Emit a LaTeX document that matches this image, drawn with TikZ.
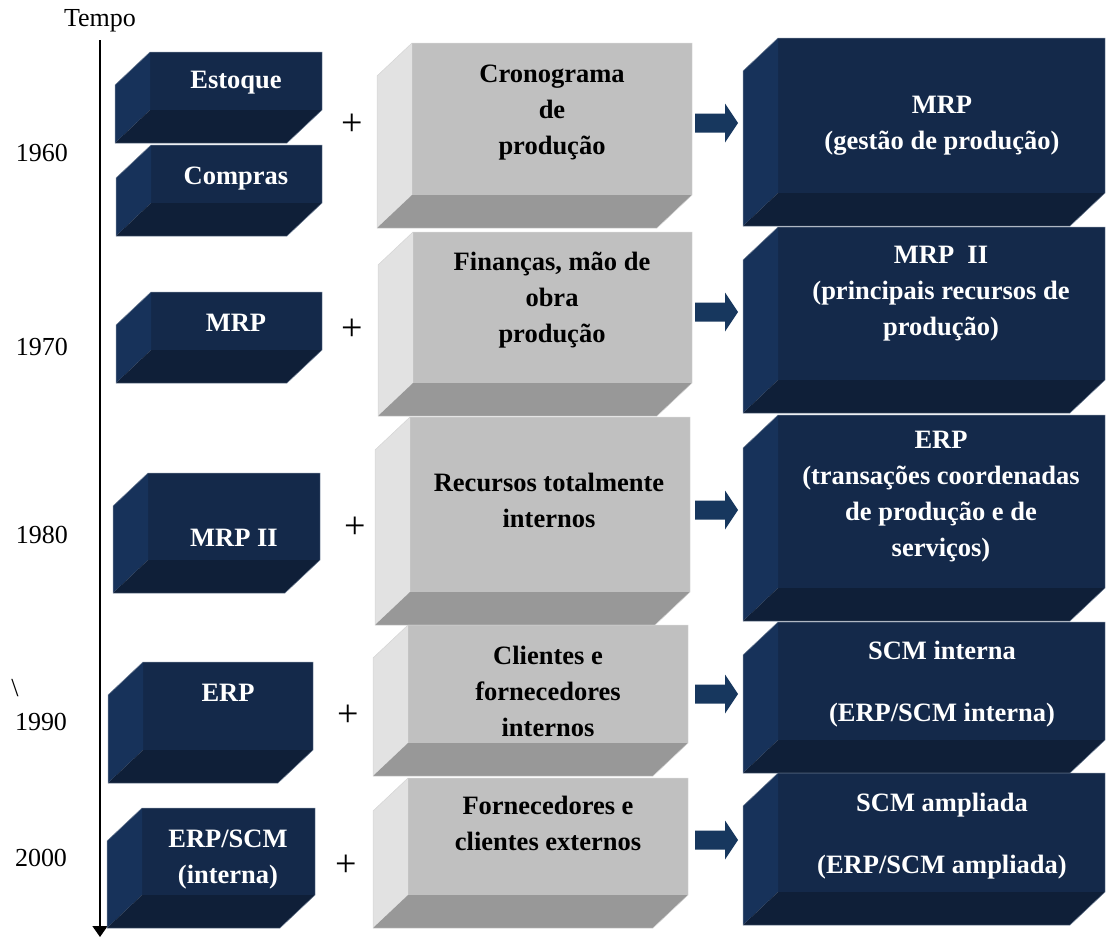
\documentclass[tikz,border=0pt]{standalone}
\usepackage{fontspec}
\setmainfont{Liberation Serif}
\usetikzlibrary{arrows.meta,fit}
\definecolor{navyF}{HTML}{14294A}
\definecolor{navyL}{HTML}{17325A}
\definecolor{navyB}{HTML}{0F1F38}
\definecolor{navyE}{HTML}{6F7F96}
\definecolor{grayF}{HTML}{C0C0C0}
\definecolor{grayL}{HTML}{E2E2E2}
\definecolor{grayB}{HTML}{989898}
\definecolor{grayE}{HTML}{D4D4D4}
\definecolor{arrowC}{HTML}{17375E}
\tikzset{
  navyfront/.style={fill=navyF},
  navyleft/.style={fill=navyL},
  navybottom/.style={fill=navyB},
  navyedge/.style={draw=navyE,line width=0.5pt},
  grayfront/.style={fill=grayF},
  grayleft/.style={fill=grayL},
  graybottom/.style={fill=grayB},
  grayedge/.style={draw=grayE,line width=0.5pt},
  wtxt/.style={text=white,font=\fontsize{26.5}{36}\selectfont\bfseries,align=center,inner sep=0pt},
  btxt/.style={text=black,font=\fontsize{26.5}{36}\selectfont\bfseries,align=center,inner sep=0pt},
  year/.style={font=\fontsize{26}{30}\selectfont,inner sep=0pt},
  plus/.style={font=\fontsize{38}{40}\selectfont,inner sep=0pt},
  blockarrow/.style={fill=arrowC}
}
\newcommand{\cubebox}[6]{%
  \node[#6front,fit={(#2,#4) (#3,#5)},inner sep=0pt,outer sep=0pt] (#1) {};
  \fill[#6left] (#1.north west) -- (#1.south west) -- ++(-35,33) -- ([shift={(-35,33)}]#1.north west) -- cycle;
  \fill[#6bottom] (#1.south west) -- (#1.south east) -- ++(-35,33) -- ([shift={(-35,33)}]#1.south west) -- cycle;
  \draw[#6edge] (#1.north west) -- (#1.north east) -- (#1.south east) -- ++(-35,33)
     -- ([shift={(-35,33)}]#1.south west) -- ([shift={(-35,33)}]#1.north west) -- cycle;
}
% block arrow: #1 name, #2 centre y
\newcommand{\blockarr}[2]{%
  \coordinate (#1) at (695,#2);
  \fill[blockarrow] ([shift={(0,-9.5)}]#1) -- ++(30,0) -- ++(0,-10) -- ([shift={(43,0)}]#1)
     -- ([shift={(30,19.5)}]#1) -- ++(0,-10) -- ([shift={(0,9.5)}]#1) -- cycle;
}
\begin{document}
\begin{tikzpicture}[x=1pt,y=-1pt]
\useasboundingbox (0,0) rectangle (1106,937);
% timeline
\coordinate (tltop) at (100,40);
\coordinate (tlbot) at (100,937);
\draw[line width=1.5pt,-{Triangle[width=15pt,length=11pt]}] (tltop) -- (tlbot);
\node[year] (tempo) at (100,21) {Tempo};
\node[year] (y1960) at (42,153) {1960};
\node[year] (y1970) at (42,347) {1970};
\node[year] (y1980) at (42,535) {1980};
\node[year] (y1990) at (41,722) {1990};
\node[year] (y2000) at (41,858) {2000};
\node[year] (bslash) at (15,688) {\textbackslash};
% left column
\cubebox{L1}{150}{322}{52}{110}{navy}
\cubebox{L2}{151}{322}{145}{203}{navy}
\cubebox{L3}{151}{322}{292}{350}{navy}
\cubebox{L4}{148}{320}{473}{560}{navy}
\cubebox{L5}{143}{313}{662}{750}{navy}
\cubebox{L6}{142}{315}{808}{895}{navy}
\node[wtxt] (L1t) at (236,83) {Estoque};
\node[wtxt] (L2t) at (236,179) {Compras};
\node[wtxt] (L3t) at (236,323) {MRP};
\node[wtxt] (L4t) at (234,538) {MRP II};
\node[wtxt] (L5t) at (228,693) {ERP};
\node[wtxt] (L6t) at (228,860) {ERP/SCM\\(interna)};
% middle column
\cubebox{M1}{412}{692}{43}{195}{gray}
\cubebox{M2}{413}{692}{232}{383}{gray}
\cubebox{M3}{410}{690}{417}{592}{gray}
\cubebox{M4}{408}{688}{625}{743}{gray}
\cubebox{M5}{408}{688}{778}{895}{gray}
\node[btxt] (M1t) at (552,113) {Cronograma\\de\\produção};
\node[btxt] (M2t) at (552,300) {Finanças, mão de\\obra\\produção};
\node[btxt] (M3t) at (549,500) {Recursos totalmente\\internos};
\node[btxt] (M4t) at (548,691) {Clientes e\\fornecedores\\internos};
\node[btxt] (M5t) at (548,823) {Fornecedores e\\clientes externos};
% right column
\cubebox{R1}{778}{1105}{38}{193}{navy}
\cubebox{R2}{778}{1105}{227}{380}{navy}
\cubebox{R3}{778}{1105}{415}{588}{navy}
\cubebox{R4}{778}{1105}{622}{740}{navy}
\cubebox{R5}{778}{1105}{773}{892}{navy}
\node[wtxt] (R1t) at (942,126) {MRP\\(gestão de produção)};
\node[wtxt] (R2t) at (941,294) {MRP~~II\\(principais recursos de\\produção)};
\node[wtxt] (R3t) at (941,497) {ERP\\(transações coordenadas\\de produção e de\\serviços)};
\node[wtxt] (R4t) at (942,684) {SCM interna\\[26pt](ERP/SCM interna)};
\node[wtxt] (R5t) at (942,836) {SCM ampliada\\[26pt](ERP/SCM ampliada)};
% plus signs
\node[plus] (p1) at (352,125) {+};
\node[plus] (p2) at (352,330) {+};
\node[plus] (p3) at (355,528) {+};
\node[plus] (p4) at (348,716) {+};
\node[plus] (p5) at (346,866) {+};
% block arrows
\blockarr{a1}{123}
\blockarr{a2}{312}
\blockarr{a3}{510}
\blockarr{a4}{694}
\blockarr{a5}{840}
\end{tikzpicture}
\end{document}
